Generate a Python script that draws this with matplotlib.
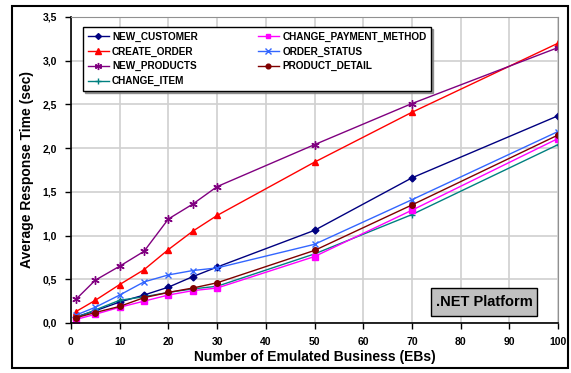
import matplotlib
matplotlib.use("Agg")
import matplotlib.pyplot as plt
from matplotlib.patches import Rectangle
from matplotlib.ticker import FuncFormatter

plt.rcParams['font.family'] = ['Liberation Sans', 'DejaVu Sans']
plt.rcParams['font.weight'] = 'bold'

ebs = [1, 5, 10, 15, 20, 25, 30, 50, 70, 100]

new_customer = [0.07, 0.14, 0.24, 0.32, 0.41, 0.53, 0.64, 1.06, 1.66, 2.37]
create_order = [0.13, 0.26, 0.44, 0.61, 0.84, 1.05, 1.23, 1.84, 2.41, 3.20]
new_products = [0.27, 0.49, 0.65, 0.82, 1.19, 1.36, 1.56, 2.04, 2.51, 3.15]
change_item = [0.06, 0.15, 0.26, 0.30, 0.35, 0.39, 0.42, 0.79, 1.24, 2.04]
change_payment_method = [0.04, 0.10, 0.18, 0.25, 0.32, 0.37, 0.40, 0.76, 1.29, 2.11]
order_status = [0.09, 0.18, 0.32, 0.47, 0.55, 0.60, 0.63, 0.90, 1.41, 2.19]
product_detail = [0.06, 0.12, 0.19, 0.29, 0.35, 0.40, 0.46, 0.83, 1.35, 2.15]

series = [
    ("NEW_CUSTOMER", new_customer, "#000080", "D", 3.5),
    ("CREATE_ORDER", create_order, "#ff0000", "^", 4.5),
    ("NEW_PRODUCTS", new_products, "#800080", (6, 2, 0), 6),
    ("CHANGE_ITEM", change_item, "#008080", "+", 5),
    ("CHANGE_PAYMENT_METHOD", change_payment_method, "#ff00ff", "s", 4),
    ("ORDER_STATUS", order_status, "#3366ff", "x", 4.5),
    ("PRODUCT_DETAIL", product_detail, "#800000", "o", 4),
]

fig = plt.figure(figsize=(5.71, 3.73), dpi=100)
W, H = 571, 373

# outer frame around the whole figure
fig.patches.append(Rectangle((12 / W, 1 - 368 / H), 556 / W, 362 / H,
                             transform=fig.transFigure, fill=False,
                             edgecolor="black", linewidth=1.5))

ax = fig.add_axes([71 / W, 1 - 323 / H, 487 / W, 306 / H])

for name, vals, color, marker, ms in series:
    ax.plot(ebs, vals, color=color, marker=marker, markersize=ms,
            linewidth=1, markeredgewidth=1, label=name)

ax.set_xlim(0, 100)
ax.set_ylim(0, 3.5)
ax.set_xticks(range(0, 101, 10))
ax.set_yticks([i * 0.5 for i in range(8)])
ax.yaxis.set_major_formatter(FuncFormatter(lambda v, p: f"{v:.1f}".replace(".", ",")))
ax.grid(True, color="#d0d0d0", linewidth=1.2)
ax.set_axisbelow(True)

for s in ("top", "right"):
    ax.spines[s].set_color("#909090")
for s in ("left", "bottom"):
    ax.spines[s].set_color("black")
    ax.spines[s].set_linewidth(1.2)
ax.tick_params(direction="out", length=4, width=1, labelsize=7.5, pad=6)

ax.set_xlabel("Number of Emulated Business (EBs)", fontsize=10, fontweight="bold", labelpad=2)
ax.set_ylabel("Average Response Time (sec)", fontsize=10, fontweight="bold", labelpad=6)

leg = ax.legend(ncol=2, loc="upper left", bbox_to_anchor=(83 / W, 1 - 27 / H),
                bbox_transform=fig.transFigure, borderaxespad=0,
                fontsize=7.2, frameon=True, fancybox=False,
                shadow={"color": "#808080", "alpha": 0.8, "ox": 1.5, "oy": -1.5},
                handlelength=2.1, labelspacing=0.48, columnspacing=6.0,
                borderpad=0.45, handletextpad=0.35, markerscale=0.85)
leg.get_frame().set_edgecolor("black")
leg.get_frame().set_linewidth(1)

# platform tag in the lower right corner
ax.add_patch(Rectangle((0.739, 0.023), 0.218, 0.0915, transform=ax.transAxes,
                       facecolor="#c0c0c0", edgecolor="black", linewidth=1, zorder=5))
ax.text(0.848, 0.069, ".NET Platform", transform=ax.transAxes, ha="center", va="center",
        fontsize=10.5, fontweight="bold", zorder=6)

fig.savefig("out.png", dpi=100)
